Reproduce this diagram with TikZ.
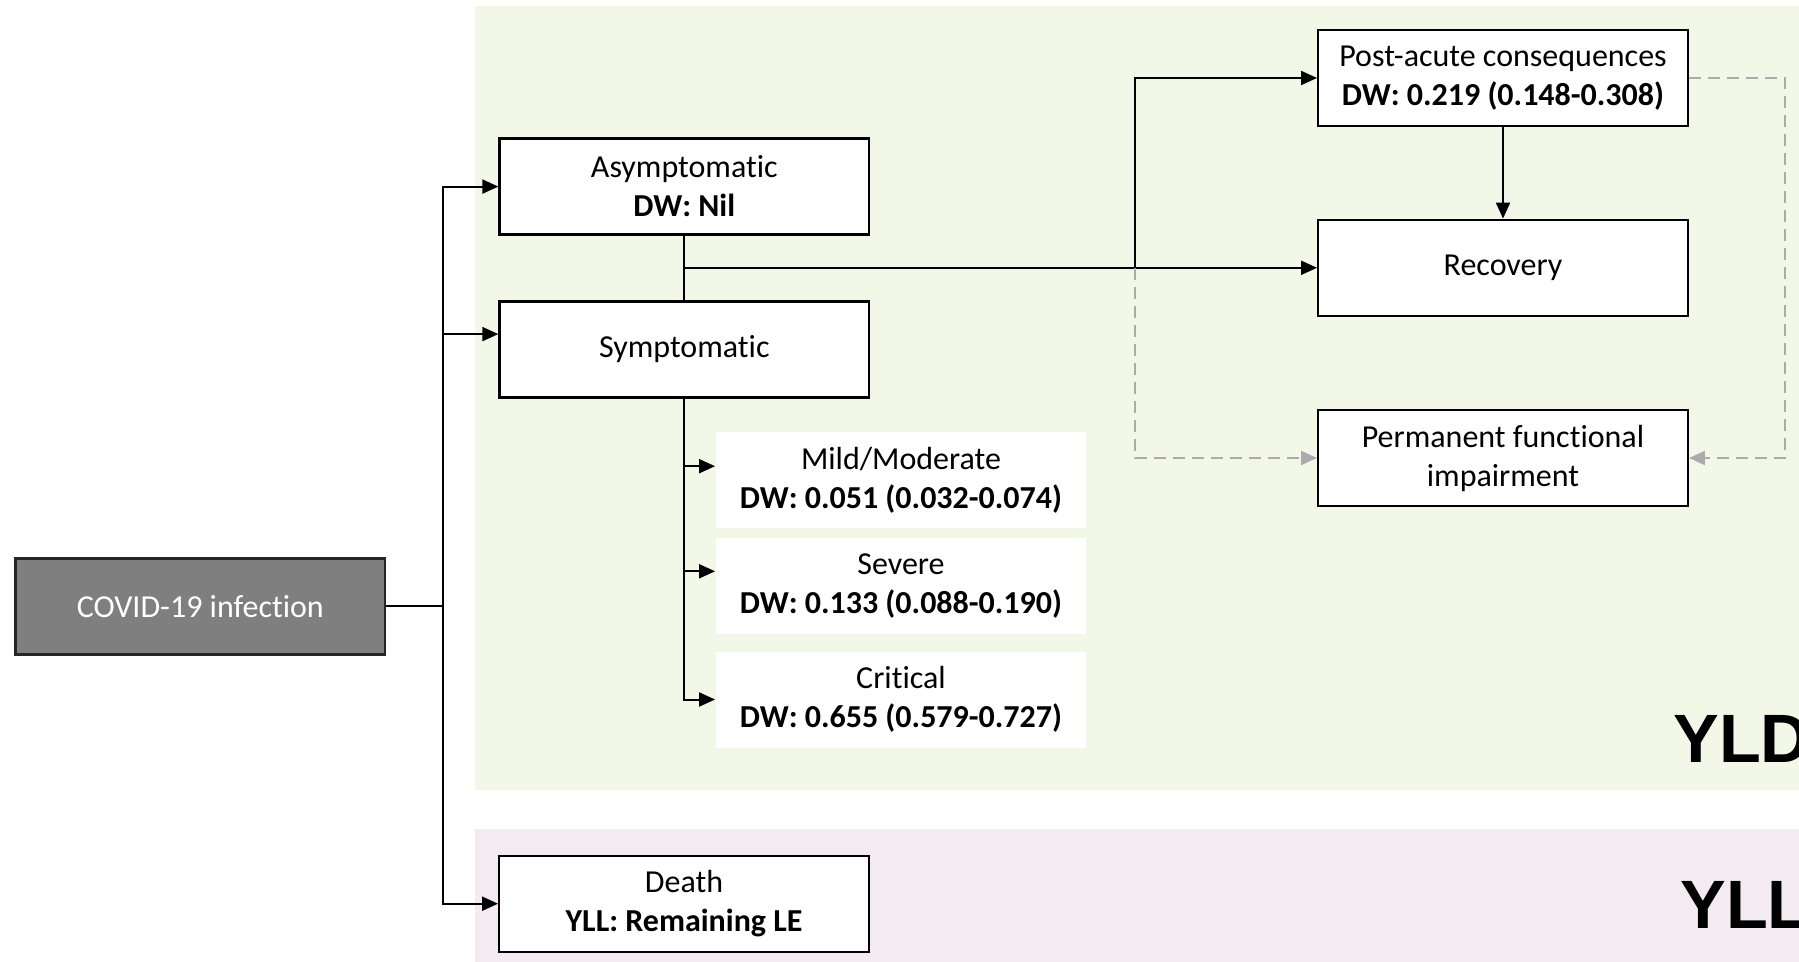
\documentclass[tikz,border=0pt]{standalone}
\usepackage{fontspec}
\setmainfont{Carlito}[Ligatures=NoCommon]
\newfontfamily\panelfont{Liberation Sans}
\usetikzlibrary{arrows.meta}
\definecolor{yldbg}{RGB}{243,247,232}
\definecolor{yllbg}{RGB}{244,234,242}
\definecolor{infgray}{RGB}{127,127,127}
\definecolor{dashgray}{RGB}{172,170,170}
\begin{document}
\begin{tikzpicture}[x=0.5pt,y=0.5pt,yscale=-1,xscale=1,
  box/.style={draw, line width=1.2pt, fill=white, minimum width=184.75pt, minimum height=48pt, inner sep=0pt, align=center, font=\fontsize{16}{19.5}\selectfont},
  dwbox/.style={box, draw=none},
  arr/.style={line width=1pt, -{Triangle[length=8pt,width=7pt]}},
  link/.style={line width=1pt},
  dasharr/.style={line width=1.1pt, dashgray, dash pattern=on 6pt off 3.5pt, -{Triangle[length=8pt,width=7pt]}},
  panel/.style={font=\panelfont\bfseries\fontsize{34.2}{34.2}\selectfont, anchor=base west, inner sep=0pt}]
\useasboundingbox (0,0) rectangle (1799,962);

%Shape: Rectangle (YLD panel)
\fill [yldbg] (475,6) rectangle (1820,790);
%Shape: Rectangle (YLL panel)
\fill [yllbg] (475,829) rectangle (1820,970);

% Text Node
\node [box, fill=infgray, draw={rgb,255:red,38;green,38;blue,38}, text=white, minimum width=184.75pt] (covid) at (200.3,606.3) {COVID-19 infection};
% Text Node
\node [box] (asym) at (684.3,186.6) {Asymptomatic\\\textbf{DW: Nil}};
% Text Node
\node [box] (sym) at (684.3,349.5) {Symptomatic};
% Text Node
\node [box] (death) at (684,903.7) {Death\\\textbf{YLL: Remaining LE}};
% Text Node
\node [dwbox] (mild) at (901,480.2) {Mild/Moderate\\\textbf{DW: 0.051 (0.032-0.074)}};
% Text Node
\node [dwbox] (sev) at (901,585.7) {Severe\\\textbf{DW: 0.133 (0.088-0.190)}};
% Text Node
\node [dwbox] (crit) at (901,699.5) {Critical\\\textbf{DW: 0.655 (0.579-0.727)}};
% Text Node
\node [box] (post) at (1503,78) {Post-acute consequences\\\textbf{DW: 0.219 (0.148-0.308)}};
% Text Node
\node [box] (recov) at (1503,267.8) {Recovery};
% Text Node
\node [box] (perm) at (1503,458) {Permanent functional\\impairment};

% Text Node
\node [panel] (yld) at (1673,762) {YLD};
% Text Node
\node [panel] (yll) at (1680,928) {YLL};

%Straight Lines
\coordinate (split) at (443,606.3);
\draw [link] (covid.east) -- (split);
\draw [arr] (split) |- (asym.west);
\draw [arr] (split) |- ([yshift=-7.7pt]sym.west);
\draw [arr] (split) |- (death.west);

%Straight Lines
\draw [link] (asym.south) -- (sym.north);
\coordinate (join) at (684.3,267.8);
\draw [arr] (join) -- (recov.west);
\coordinate (fork) at (1135,267.8);
\draw [arr] (fork) |- (post.west);
\draw [arr] (post.south) -- (recov.north);

%Straight Lines
\draw [arr] (sym.south) |- ([yshift=-7pt]mild.west);
\draw [arr] (sym.south) |- ([yshift=-7.2pt]sev.west);
\draw [arr] (sym.south) |- (crit.west);

%Dashed Lines
\draw [dasharr] (fork) |- (perm.west);
\coordinate (rturn) at (1785,458);
\draw [dasharr] (post.east) -| (rturn) -- (perm.east);

\end{tikzpicture}
\end{document}
